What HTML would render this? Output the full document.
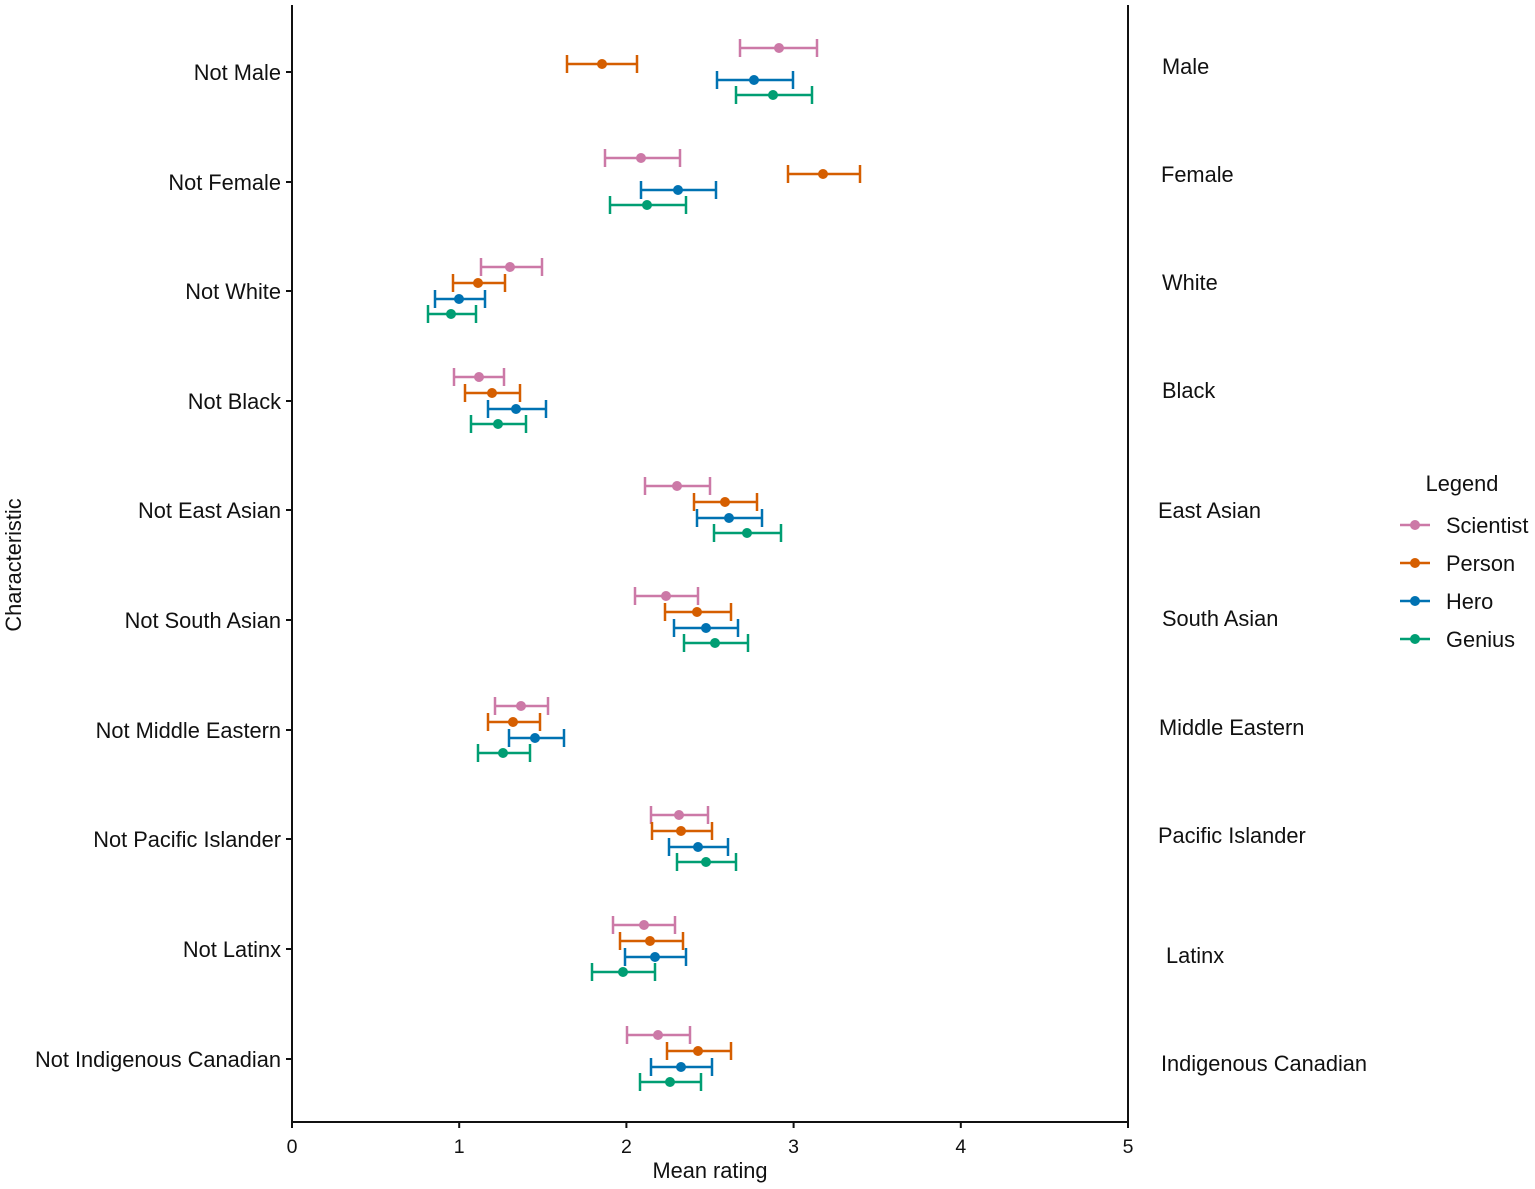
<!DOCTYPE html>
<html><head><meta charset="utf-8"><style>html,body{margin:0;padding:0;background:#fff}svg{display:block}text{font-family:"Liberation Sans",sans-serif;fill:#111}</style></head>
<body>
<svg id="s" width="1535" height="1189" xmlns="http://www.w3.org/2000/svg">
<line x1="292" y1="5" x2="292" y2="1123" stroke="#111" stroke-width="2"/>
<line x1="1128" y1="5" x2="1128" y2="1123" stroke="#111" stroke-width="2"/>
<line x1="291" y1="1122" x2="1129" y2="1122" stroke="#111" stroke-width="2"/>
<g id="g"></g>
<text x="710" y="1178" font-size="21.8" text-anchor="middle">Mean rating</text>
<text transform="translate(21,565) rotate(-90)" font-size="21.8" text-anchor="middle">Characteristic</text>
<text x="1462" y="491" font-size="21.8" text-anchor="middle">Legend</text>
</svg>
<script>
const C=["#cc79a7","#d55e00","#0072b2","#009e73"],N=["Scientist","Person","Hero","Genius"];
const rows=[["Not Male",72,"Male",66,[[740,779,817],[567,602,637],[717,754,793],[736,773,812]]],
["Not Female",182,"Female",174,[[605,641,680],[788,823,860],[641,678,716],[610,647,686]]],
["Not White",291,"White",282,[[481,510,542],[453,478,505],[435,459,485],[428,451,476]]],
["Not Black",401,"Black",390,[[454,479,504],[465,492,520],[488,516,546],[471,498,526]]],
["Not East Asian",510,"East Asian",510,[[645,677,710],[694,725,757],[697,729,762],[714,747,781]]],
["Not South Asian",620,"South Asian",618,[[635,666,698],[665,697,731],[674,706,738],[684,715,748]]],
["Not Middle Eastern",730,"Middle Eastern",727,[[495,521,548],[488,513,540],[509,535,564],[478,503,530]]],
["Not Pacific Islander",839,"Pacific Islander",835,[[651,679,708],[652,681,712],[669,698,728],[677,706,736]]],
["Not Latinx",949,"Latinx",955,[[613,644,675],[620,650,683],[625,655,686],[592,623,655]]],
["Not Indigenous Canadian",1059,"Indigenous Canadian",1063,[[627,658,690],[667,698,731],[651,681,712],[640,670,701]]]];
const rx=[1162,1161,1162,1162,1158,1162,1159,1158,1166,1161];
let h="";const off=[-24,-8,8,23];
rows.forEach((r,i)=>{
h+=`<line x1="286" y1="${r[1]}" x2="292" y2="${r[1]}" stroke="#111" stroke-width="2"/><text x="281" y="${r[1]+8}" font-size="21.8" text-anchor="end">${r[0]}</text><text x="${rx[i]}" y="${r[3]+8}" font-size="21.8">${r[2]}</text>`;
r[4].forEach((d,k)=>{const y=r[1]+off[k],c=C[k];
h+=`<g stroke="${c}" stroke-width="2.5"><line x1="${d[0]}" y1="${y}" x2="${d[2]}" y2="${y}"/><line x1="${d[0]}" y1="${y-9}" x2="${d[0]}" y2="${y+9}"/><line x1="${d[2]}" y1="${y-9}" x2="${d[2]}" y2="${y+9}"/></g><circle cx="${d[1]}" cy="${y}" r="5" fill="${c}"/>`;});});
for(let t=0;t<=5;t++){const x=292+t*167.2;h+=`<line x1="${x}" y1="1122" x2="${x}" y2="1128" stroke="#111" stroke-width="2"/><text x="${x}" y="1153" font-size="19.5" text-anchor="middle">${t}</text>`;}
N.forEach((n,k)=>{const y=525+k*38;h+=`<line x1="1400" y1="${y}" x2="1430" y2="${y}" stroke="${C[k]}" stroke-width="2.5"/><circle cx="1415" cy="${y}" r="5" fill="${C[k]}"/><text x="1446" y="${y+8}" font-size="21.8">${n}</text>`;});
document.getElementById("g").innerHTML=h;
</script>
</body></html>
